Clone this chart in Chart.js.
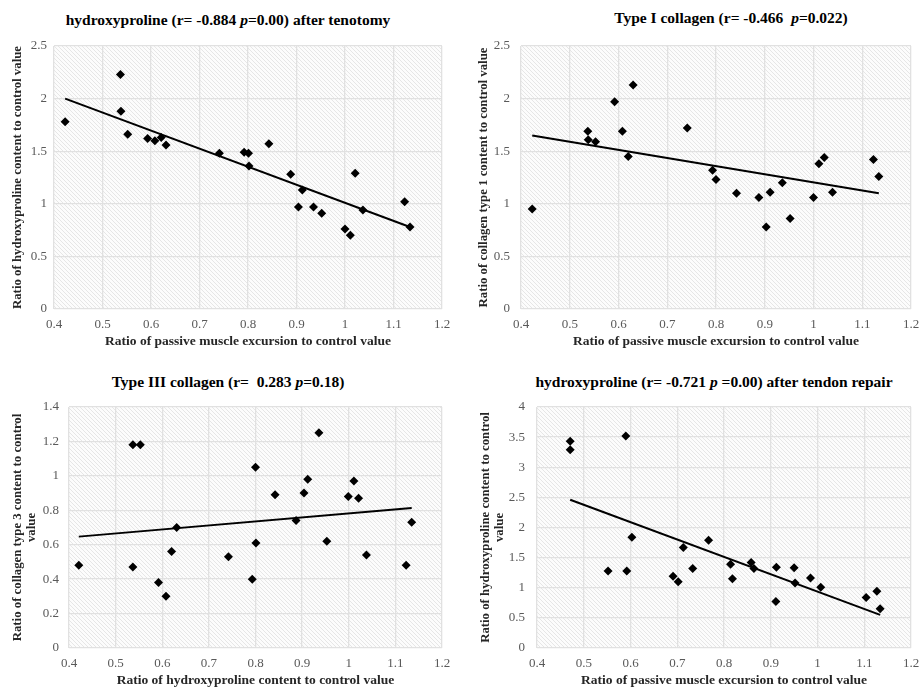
<!DOCTYPE html>
<html>
<head>
<meta charset="utf-8">
<script src="https://cdn.jsdelivr.net/npm/chart.js@4.4.1/dist/chart.umd.min.js"></script>
<style>
  body { margin: 0; background: #fff; width: 921px; height: 693px; position: relative; overflow: hidden; font-family: "Liberation Serif", "Times New Roman", serif; }
  .title { position: absolute; font-weight: bold; font-size: 15.5px; white-space: nowrap; transform: translate(-50%, -50%); color: #000; }
  canvas { position: absolute; }
</style>
</head>
<body>
<div class="title" style="left:228px;top:20px">hydroxyproline (r= -0.884 <i>p</i>=0.00) after tenotomy</div>
<div class="title" style="left:731px;top:18px">Type I collagen (r= -0.466&nbsp; <i>p</i>=0.022)</div>
<div class="title" style="left:228px;top:382px">Type III collagen (r=&nbsp; 0.283 <i>p</i>=0.18)</div>
<div class="title" style="left:714px;top:382px">hydroxyproline (r= -0.721 <i>p</i> =0.00) after tendon repair</div>
<canvas id="c1" width="460" height="314" style="left:0;top:36px;width:460px;height:314px"></canvas>
<canvas id="c2" width="461" height="314" style="left:460px;top:36px;width:461px;height:314px"></canvas>
<canvas id="c3" width="460" height="298" style="left:0;top:395px;width:460px;height:298px"></canvas>
<canvas id="c4" width="461" height="298" style="left:460px;top:395px;width:461px;height:298px"></canvas>
<script>
var FONT = '"Liberation Serif", "Times New Roman", serif';

// x values shared by the first panels (passive muscle excursion ratio)
var excursion = [0.423, 0.537, 0.538, 0.552, 0.593, 0.608, 0.621, 0.631, 0.741, 0.792, 0.801, 0.802,
                 0.843, 0.888, 0.912, 0.904, 0.935, 0.952, 1.000, 1.011, 1.021, 1.037, 1.123, 1.134];
var hypTenotomy = [1.78, 2.23, 1.88, 1.66, 1.62, 1.60, 1.63, 1.56, 1.48, 1.49, 1.48, 1.36,
                   1.57, 1.28, 1.13, 0.97, 0.97, 0.91, 0.76, 0.70, 1.29, 0.94, 1.02, 0.78];

var excursion2 = [0.423, 0.537, 0.538, 0.553, 0.592, 0.608, 0.620, 0.630, 0.741, 0.793, 0.800, 0.842,
                  0.888, 0.903, 0.911, 0.936, 0.952, 1.000, 1.011, 1.022, 1.039, 1.123, 1.134];
var collagen1 = [0.95, 1.69, 1.61, 1.59, 1.97, 1.69, 1.45, 2.13, 1.72, 1.32, 1.23, 1.10,
                 1.06, 0.78, 1.11, 1.20, 0.86, 1.06, 1.38, 1.44, 1.11, 1.42, 1.26];

var hypRatio = [0.421, 0.537, 0.553, 0.537, 0.592, 0.608, 0.620, 0.631, 0.742, 0.793, 0.800, 0.801,
                0.842, 0.887, 0.904, 0.912, 0.936, 0.953, 0.999, 1.011, 1.021, 1.038, 1.123, 1.135];
var collagen3 = [0.48, 1.18, 1.18, 0.47, 0.38, 0.30, 0.56, 0.70, 0.53, 0.40, 1.05, 0.61,
                 0.89, 0.74, 0.90, 0.98, 1.25, 0.62, 0.88, 0.97, 0.87, 0.54, 0.48, 0.73];

var excursionRepair = [0.471, 0.471, 0.590, 0.552, 0.592, 0.603, 0.691, 0.702, 0.713, 0.733, 0.767, 0.814,
                       0.818, 0.858, 0.864, 0.911, 0.912, 0.950, 0.952, 0.985, 1.007, 1.104, 1.127, 1.134];
var hypRepair = [3.43, 3.29, 3.52, 1.28, 1.28, 1.84, 1.19, 1.10, 1.67, 1.32, 1.79, 1.39,
                 1.15, 1.42, 1.32, 0.77, 1.34, 1.33, 1.08, 1.16, 1.01, 0.84, 0.94, 0.65];

// linear trendline end points as drawn in the figure
var trend1X = [0.423, 1.134], trend1Y = [2.00, 0.78];
var trend2X = [0.423, 1.134], trend2Y = [1.65, 1.10];
var trend3X = [0.421, 1.135], trend3Y = [0.647, 0.813];
var trend4X = [0.471, 1.134], trend4Y = [2.46, 0.55];

var xTicks = [0.4, 0.5, 0.6, 0.7, 0.8, 0.9, 1, 1.1, 1.2];
var yTicks25 = [0, 0.5, 1, 1.5, 2, 2.5];
var yTicks14 = [0, 0.2, 0.4, 0.6, 0.8, 1, 1.2, 1.4];
var yTicks4 = [0, 0.5, 1, 1.5, 2, 2.5, 3, 3.5, 4];

var xTitle = 'Ratio of passive muscle excursion to control value';

function pts(xs, ys) {
    return xs.map(function (x, i) { return { x: x, y: ys[i] }; });
}

// diagonal hatch behind the plot area
var hatchPlugin = {
    id: 'hatch',
    beforeDraw: function (chart) {
        var ctx = chart.ctx, a = chart.chartArea;
        var p = document.createElement('canvas');
        p.width = 4; p.height = 4;
        var pc = p.getContext('2d');
        pc.fillStyle = '#fcfcfc';
        pc.fillRect(0, 0, 4, 4);
        pc.strokeStyle = '#e6e6e6';
        pc.lineWidth = 1;
        pc.beginPath();
        pc.moveTo(-1, -1); pc.lineTo(5, 5);
        pc.moveTo(-1, 3); pc.lineTo(1, 5);
        pc.moveTo(3, -1); pc.lineTo(5, 1);
        pc.stroke();
        ctx.save();
        ctx.fillStyle = ctx.createPattern(p, 'repeat');
        ctx.fillRect(a.left, a.top, a.right - a.left, a.bottom - a.top);
        ctx.restore();
    }
};

function makeChart(id, xs, ys, tx, ty, yMax, yTicks, yTitle, xTitleText, box) {
    new Chart(document.getElementById(id), {
        type: 'scatter',
        data: {
            datasets: [{
                data: pts(xs, ys),
                pointStyle: 'rectRot',
                pointRadius: 4.5,
                pointHoverRadius: 4.5,
                backgroundColor: '#000',
                borderColor: '#000',
                borderWidth: 0
            }, {
                data: pts(tx, ty),
                showLine: true,
                borderColor: '#000',
                borderWidth: 2,
                pointRadius: 0
            }]
        },
        options: {
            responsive: false,
            animation: false,
            devicePixelRatio: 1,
            layout: { padding: { top: box.top, right: box.right, left: 0, bottom: 0 } },
            plugins: { legend: { display: false }, tooltip: { enabled: false } },
            scales: {
                x: {
                    type: 'linear', min: 0.4, max: 1.2,
                    afterBuildTicks: function (s) { s.ticks = xTicks.map(function (v) { return { value: v }; }); },
                    afterFit: function (s) { s.height = box.xh; s.paddingLeft = 0; s.paddingRight = 0; },
                    grid: { color: '#e1e1e1', lineWidth: 1.3, drawTicks: false },
                    border: { display: false },
                    ticks: { padding: box.xtp, color: '#595959', font: { family: FONT, size: 13 },
                             callback: function (v) { return String(v); } },
                    title: { display: true, text: xTitleText, color: '#262626', padding: { top: 0, bottom: box.xtb },
                             font: { family: FONT, size: 13.5, weight: 'bold' } }
                },
                y: {
                    type: 'linear', min: 0, max: yMax,
                    afterBuildTicks: function (s) { s.ticks = yTicks.map(function (v) { return { value: v }; }); },
                    afterFit: function (s) { s.width = box.yw; s.paddingTop = 0; s.paddingBottom = 0; },
                    grid: { color: '#e1e1e1', lineWidth: 1.3, drawTicks: false },
                    border: { display: false },
                    ticks: { padding: box.ytp, color: '#595959', font: { family: FONT, size: 13 },
                             callback: function (v) { return String(v); } },
                    title: { display: true, text: yTitle, color: '#262626', padding: { top: box.ytt, bottom: 0 },
                             font: { family: FONT, size: 12.8, weight: 'bold', lineHeight: 1.15 } }
                }
            }
        },
        plugins: [hatchPlugin]
    });
}

makeChart('c1', excursion, hypTenotomy, trend1X, trend1Y, 2.5, yTicks25,
    'Ratio of hydroxyproline content to control value', xTitle,
    { top: 10, right: 18, xh: 41, yw: 54, xtp: 8, xtb: 0, ytp: 7, ytt: 10 });
makeChart('c2', excursion2, collagen1, trend2X, trend2Y, 2.5, yTicks25,
    'Ratio of collagen type 1 content to control value', xTitle,
    { top: 10, right: 10, xh: 41, yw: 61, xtp: 8, xtb: 0, ytp: 11, ytt: 16 });
makeChart('c3', hypRatio, collagen3, trend3X, trend3Y, 1.4, yTicks14,
    ['Ratio of collagen type 3 content to control', 'value'], 'Ratio of hydroxyproline content to control value',
    { top: 12, right: 18, xh: 45, yw: 69, xtp: 8, xtb: 4, ytp: 10, ytt: 10 });
makeChart('c4', excursionRepair, hypRepair, trend4X, trend4Y, 4, yTicks4,
    ['Ratio of hydroxyproline content to control', 'value'], xTitle,
    { top: 12, right: 10, xh: 45, yw: 77, xtp: 8, xtb: 4, ytp: 12, ytt: 18 });
</script>
</body>
</html>
